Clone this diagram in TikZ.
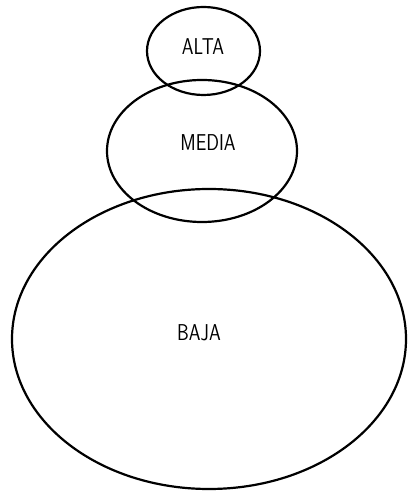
\documentclass[tikz,border=0pt]{standalone}
\usepackage{tikz}

\begin{document}
\begin{tikzpicture}[x=1bp,y=1bp,
    ring/.style={line width=2.2bp},
    lbl/.style={font=\fontsize{23}{26}\selectfont\sffamily, xscale=0.82}]
  \useasboundingbox (0,0) rectangle (407,491);
  % top level
  \draw[ring] (203.5,440) ellipse (56.5 and 44);
  \node[lbl] (alta) at (203,444) {ALTA};
  % middle level
  \draw[ring] (202,340) ellipse (95 and 71);
  \node[lbl] (media) at (208,348) {MEDIA};
  % bottom level
  \draw[ring] (209,152) ellipse (197 and 150);
  \node[lbl] (baja) at (199,158) {BAJA};
\end{tikzpicture}
\end{document}
